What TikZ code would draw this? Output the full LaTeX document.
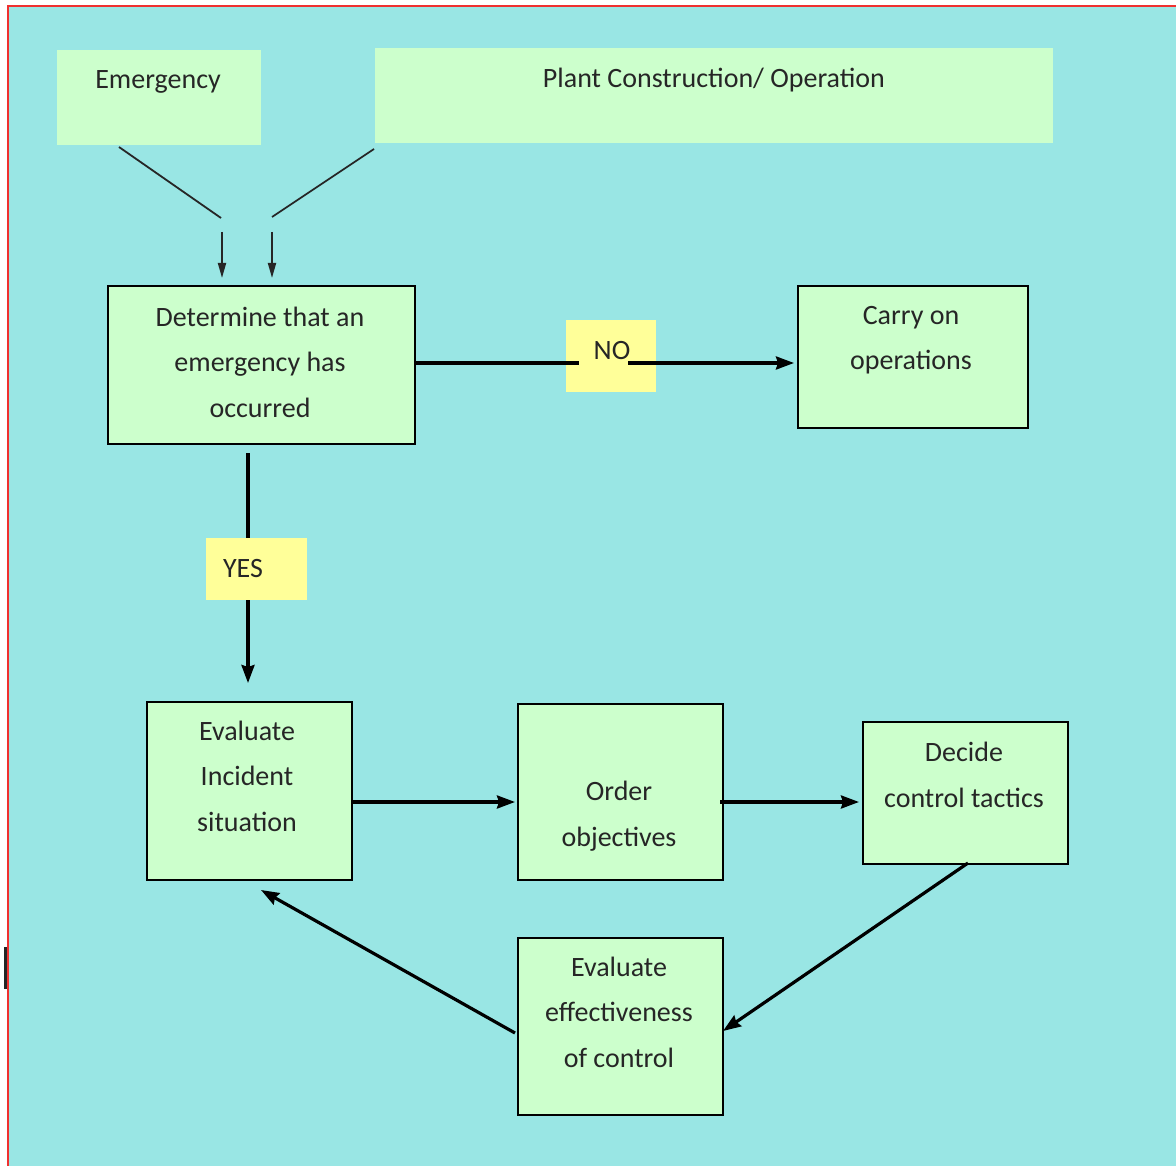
\documentclass[tikz,border=0pt]{standalone}
\usepackage{fontspec}
\setmainfont{Carlito}
\usetikzlibrary{arrows.meta}
\definecolor{bgcyan}{HTML}{99E6E4}
\definecolor{boxgreen}{HTML}{CCFFCC}
\definecolor{labyellow}{HTML}{FFFF99}
\definecolor{frame}{HTML}{F03030}
\tikzset{
  box/.style={draw=black, line width=1.6pt, fill=boxgreen, inner sep=0pt, anchor=north west},
  plainbox/.style={fill=boxgreen, inner sep=0pt, anchor=north west},
  tag/.style={fill=labyellow, inner sep=0pt, anchor=north west},
  txt/.style={font=\fontsize{28}{45.5}\selectfont, align=center, inner sep=0pt, text=black!85},
  thinline/.style={line width=1.8pt, black!85},
  thickline/.style={line width=3.2pt, black},
  thinarrow/.style={thinline, -{Stealth[length=15pt, width=8pt, inset=0pt]}},
  thickarrow/.style={thickline, -{Stealth[length=18pt, width=13pt, inset=2pt]}}
}
\begin{document}
\begin{tikzpicture}[x=1pt, y=-1pt]
\useasboundingbox (0,0) rectangle (1176,1166);
\fill[white] (0,0) rectangle (1176,1166);
\fill[bgcyan] (8,7) rectangle (1176,1166);
\draw[frame, line width=2pt] (7.5,1166) -- (7.5,6.5) -- (1176,6.5);
\fill[black!85] (4,947) rectangle (7,989);

% top boxes
\node[plainbox, minimum width=204pt, minimum height=95pt] (em) at (57,50) {};
\node[txt] (emT) at (158,82) {Emergency};
\node[plainbox, minimum width=678pt, minimum height=95pt] (pc) at (375,48) {};
\node[txt] (pcT) at (714,80) {Plant Construction/ Operation};

% main boxes
\node[box, minimum width=307pt, minimum height=158pt] (det) at (107,285) {};
\node[txt] (detT) at (260,362) {Determine that an\\emergency has\\occurred};
\node[box, minimum width=230pt, minimum height=142pt] (carry) at (797,285) {};
\node[txt] (carryT) at (911,340) {Carry on\\operations};

\node[box, minimum width=205pt, minimum height=178pt] (evi) at (146,701) {};
\node[txt] (eviT) at (247,776) {Evaluate\\Incident\\situation};
\node[box, minimum width=205pt, minimum height=176pt] (ord) at (517,703) {};
\node[txt] (ordT) at (619,816) {Order\\objectives};
\node[box, minimum width=205pt, minimum height=142pt] (dec) at (862,721) {};
\node[txt] (decT) at (964,775) {Decide\\control tactics};
\node[box, minimum width=205pt, minimum height=177pt] (eve) at (517,937) {};
\node[txt] (eveT) at (619,1012) {Evaluate\\effectiveness\\of control};

% yes / no tags
\node[tag, minimum width=90pt, minimum height=72pt] (no) at (566,320) {};
\node[txt] (noT) at (612,351) {NO};
\node[tag, minimum width=101pt, minimum height=62pt] (yes) at (206,538) {};
\node[txt] (yesT) at (243,569) {YES};

% connector coordinates
\coordinate (emA) at (119,147);
\coordinate (emB) at (221,218);
\coordinate (pcA) at (374,149);
\coordinate (pcB) at (272,217);
\coordinate (a1s) at (222,232);
\coordinate (a1e) at (222,278);
\coordinate (a2s) at (272,232);
\coordinate (a2e) at (272,278);
\coordinate (noL) at (579,363);
\coordinate (noR) at (628,363);
\coordinate (yesTop) at (248,453);
\coordinate (yesBot) at (248,600);
\coordinate (yesEnd) at (248,683);

\draw[thinline] (emA) -- (emB);
\draw[thinline] (pcA) -- (pcB);
\draw[thinarrow] (a1s) -- (a1e);
\draw[thinarrow] (a2s) -- (a2e);

\draw[thickline] (det.east |- noL) -- (noL);
\draw[thickarrow] (noR) -- (794,363);
\draw[thickline] (yesTop) -- (yes.north -| yesTop);
\draw[thickarrow] (yesBot) -- (yesEnd);

\draw[thickarrow] (evi.east |- 0,802) -- (515,802);
\draw[thickarrow] (720,802) -- (859,802);
\draw[thickarrow] (968,863) -- (723,1031);
\draw[thickarrow] (515,1033) -- (261,890);
\end{tikzpicture}
\end{document}
